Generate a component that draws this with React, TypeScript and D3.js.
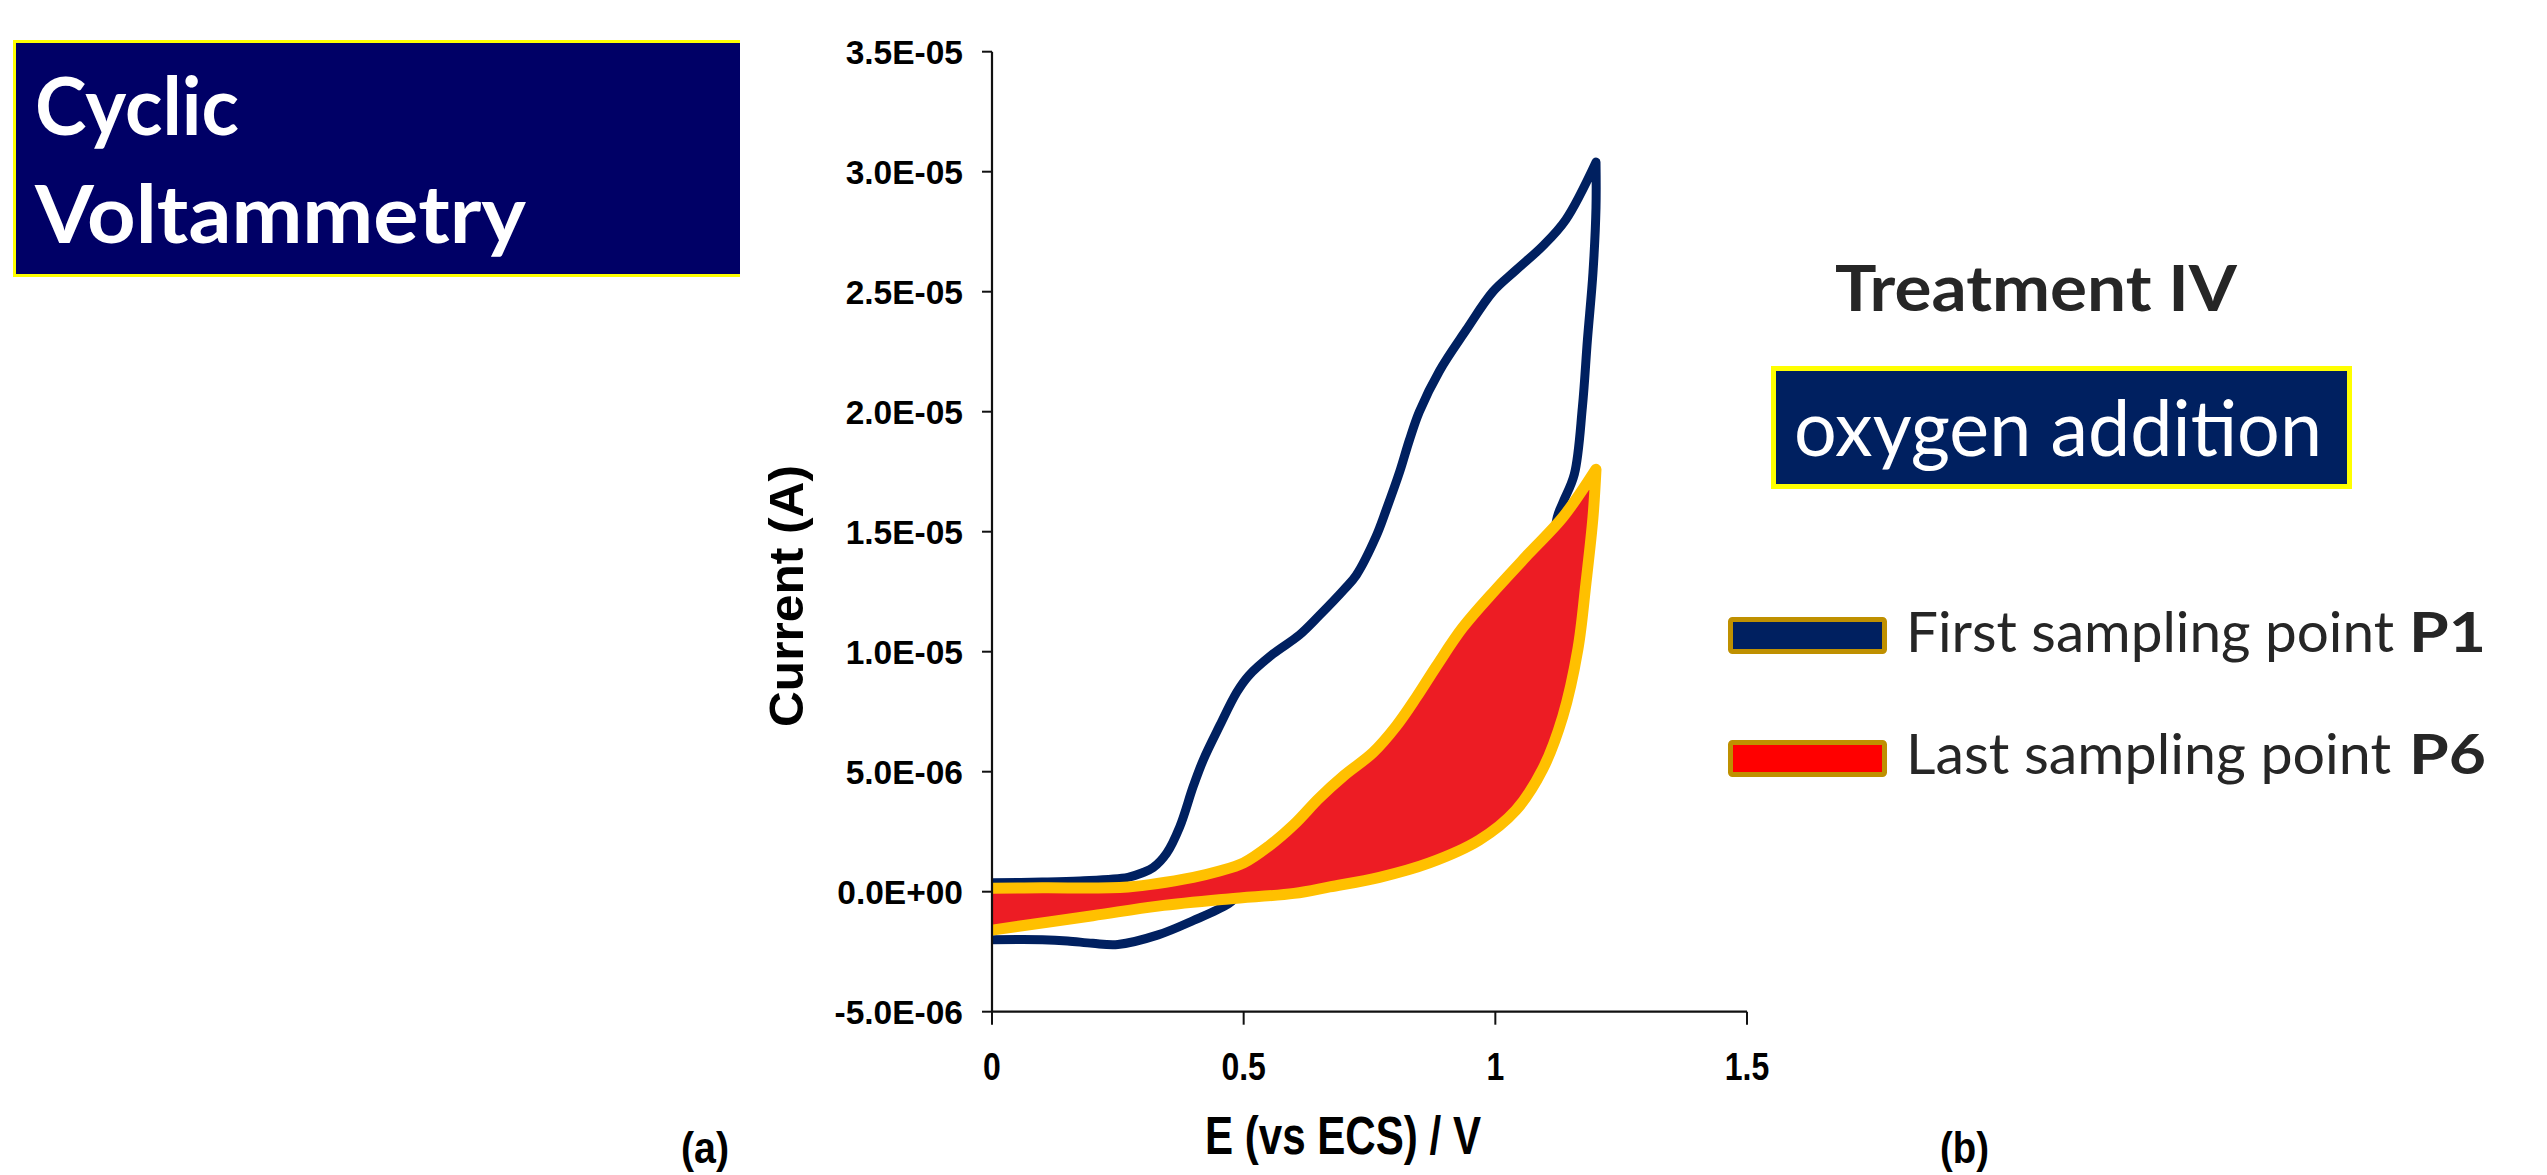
import * as d3 from 'd3';

// Potential E (V vs ECS) and current (µA).
// P1: forward scan 0 -> 1.2 V, then reverse 1.2 -> 0 V.
const p1ForwardE = [0, 0.1, 0.175, 0.27, 0.3, 0.32, 0.347, 0.373, 0.4, 0.42, 0.452, 0.486, 0.51, 0.558, 0.611, 0.65, 0.7, 0.724, 0.763, 0.783, 0.81, 0.829, 0.849, 0.889, 0.942, 0.995, 1.041, 1.094, 1.14, 1.2];
const p1ForwardI = [0.37, 0.4, 0.45, 0.6, 0.8, 1.0, 1.6, 2.7, 4.4, 5.5, 6.9, 8.3, 9.0, 9.9, 10.7, 11.5, 12.6, 13.2, 14.8, 15.9, 17.5, 18.8, 20.0, 21.7, 23.4, 25.0, 25.9, 26.9, 28.0, 30.4];
const p1ReverseE = [1.2, 1.2, 1.194, 1.183, 1.173, 1.157, 1.134, 1.123, 1.1, 1.07, 1.02, 0.95, 0.85, 0.75, 0.65, 0.56, 0.5, 0.47, 0.4, 0.33, 0.25, 0.2, 0.15, 0.1, 0];
const p1ReverseI = [30.4, 28.5, 25.8, 23.0, 20.2, 17.4, 16.2, 15.6, 12.0, 8.5, 5.5, 3.5, 2.0, 1.0, 0.5, 0.08, 0.0, -0.5, -1.2, -1.8, -2.2, -2.15, -2.05, -2.0, -2.0];

// P6
const p6ForwardE = [0, 0.1, 0.27, 0.4, 0.45, 0.5, 0.55, 0.6, 0.65, 0.7, 0.757, 0.803, 0.843, 0.883, 0.935, 1.001, 1.067, 1.134, 1.2];
const p6ForwardI = [0.14, 0.16, 0.2, 0.6, 0.85, 1.2, 1.9, 2.8, 3.9, 4.85, 5.8, 6.9, 8.1, 9.4, 11.0, 12.6, 14.1, 15.6, 17.6];
const p6ReverseE = [1.2, 1.194, 1.18, 1.164, 1.134, 1.094, 1.041, 0.968, 0.869, 0.77, 0.671, 0.6, 0.47, 0.33, 0.2, 0];
const p6ReverseI = [17.6, 15.6, 12.85, 10.1, 7.3, 5.1, 3.4, 2.15, 1.2, 0.6, 0.2, -0.07, -0.3, -0.6, -1.0, -1.6];

const xTickValues = [0, 0.5, 1, 1.5];
const xTickLabels = ['0', '0.5', '1', '1.5'];
const yTickValues = [-5, 0, 5, 10, 15, 20, 25, 30, 35];
const yTickLabels = ['-5.0E-06', '0.0E+00', '5.0E-06', '1.0E-05', '1.5E-05', '2.0E-05', '2.5E-05', '3.0E-05', '3.5E-05'];

const legendLabels = ['First sampling point', 'Last sampling point'];
const legendCodes = ['P1', 'P6'];

const W = 2547;
const H = 1175;
const NAVY = '#002060';
const RED = '#ED1C24';
const GOLD = '#FFC000';
const CHART_FONT = '"Liberation Sans", Arial, sans-serif';
const SLIDE_FONT = 'Lato, "Open Sans", sans-serif';

type Pt = [number, number];
const zip = (es: number[], is: number[]): Pt[] => es.map((e, i) => [e, is[i]]);

export default function App() {
  const x = d3.scaleLinear().domain([0, 1.5]).range([992, 1747]);
  const y = d3.scaleLinear().domain([-5, 35]).range([1011.7, 51.7]);
  const line = d3.line<Pt>()
    .x((p) => x(p[0]))
    .y((p) => y(p[1]))
    .curve(d3.curveCatmullRom.alpha(0.5));

  // two branches joined with a straight L so the switching point stays sharp
  const loop = (fwd: Pt[], rev: Pt[]) => (line(fwd) ?? '') + (line(rev) ?? '').replace(/^M/, 'L');
  const p1Path = loop(zip(p1ForwardE, p1ForwardI), zip(p1ReverseE, p1ReverseI));
  const p6Path = loop(zip(p6ForwardE, p6ForwardI), zip(p6ReverseE, p6ReverseI));

  const [x0, x1] = x.range();
  const [yBottom, yTop] = y.range();

  return (
    <svg width={W} height={H} viewBox={`0 0 ${W} ${H}`} style={{ position: 'fixed', left: 0, top: 0, background: '#fff' }}>
      <rect width={W} height={H} fill="#fff" />

      {/* title block */}
      <rect x={13} y={40} width={727} height={237} fill="#000066" />
      <path d="M740,41.5 H14.5 V275.5 H740" fill="none" stroke="#FFFF00" strokeWidth={3} />
      <text x={35} y={135} fontFamily={SLIDE_FONT} fontWeight={700} fontSize={81} fill="#fff" textLength={204} lengthAdjust="spacingAndGlyphs">Cyclic</text>
      <text x={35} y={243} fontFamily={SLIDE_FONT} fontWeight={700} fontSize={81} fill="#fff" textLength={491} lengthAdjust="spacingAndGlyphs">Voltammetry</text>

      {/* curves */}
      <path d={p1Path} fill="none" stroke={NAVY} strokeWidth={9} strokeLinejoin="round" />
      <path d={p6Path + 'Z'} fill={RED} stroke="none" />
      <path d={p6Path} fill="none" stroke={GOLD} strokeWidth={11} strokeLinejoin="round" />

      {/* axes */}
      <g fontFamily={CHART_FONT} fontWeight={700} fill="#000">
        <line x1={x0} x2={x0} y1={yTop} y2={yBottom} stroke="#111" strokeWidth={2.2} />
        <line x1={x0} x2={x1} y1={yBottom} y2={yBottom} stroke="#111" strokeWidth={2.2} />
        {yTickValues.map((t, i) => (
          <g key={`y${t}`}>
            <line x1={x0 - 10} x2={x0} y1={y(t)} y2={y(t)} stroke="#111" strokeWidth={2} />
            <text x={963} y={y(t) + 12} textAnchor="end" fontSize={33.5}>{yTickLabels[i]}</text>
          </g>
        ))}
        {xTickValues.map((t, i) => (
          <g key={`x${t}`}>
            <line x1={x(t)} x2={x(t)} y1={yBottom} y2={yBottom + 13} stroke="#111" strokeWidth={2} />
            <text transform={`translate(${x(t)},1080) scale(0.82,1)`} textAnchor="middle" fontSize={39}>{xTickLabels[i]}</text>
          </g>
        ))}
        <text transform="translate(1343,1154) scale(0.78,1)" textAnchor="middle" fontSize={54}>E (vs ECS) / V</text>
        <text transform="translate(803,596) rotate(-90)" textAnchor="middle" fontSize={48} textLength={262} lengthAdjust="spacingAndGlyphs">Current (A)</text>
        <text x={681} y={1163} fontSize={45} textLength={48} lengthAdjust="spacingAndGlyphs">(a)</text>
        <text x={1940} y={1163} fontSize={45} textLength={49} lengthAdjust="spacingAndGlyphs">(b)</text>
      </g>

      {/* right-hand annotations */}
      <text x={1835} y={311} fontFamily={SLIDE_FONT} fontWeight={700} fontSize={64} fill="#262626" textLength={402} lengthAdjust="spacingAndGlyphs">Treatment IV</text>
      <rect x={1773.5} y={368.5} width={576} height={118} fill={NAVY} stroke="#FFFF00" strokeWidth={5} />
      <text x={1794} y={456} fontFamily={SLIDE_FONT} fontSize={78} fill="#fff" textLength={528} lengthAdjust="spacingAndGlyphs">oxygen addition</text>

      {legendLabels.map((label, i) => {
        const top = i === 0 ? 617 : 740;
        const base = i === 0 ? 652 : 774;
        return (
          <g key={label}>
            <rect x={1730.5} y={top + 2.5} width={154} height={32} rx={2} fill={i === 0 ? NAVY : '#FF0000'} stroke="#BF9000" strokeWidth={5} />
            <text x={1906} y={base} fontFamily={SLIDE_FONT} fontSize={56} fill="#262626" textLength={i === 0 ? 488 : 485} lengthAdjust="spacingAndGlyphs">{label}</text>
            <text x={2409} y={base} fontFamily={SLIDE_FONT} fontWeight={700} fontSize={56} fill="#262626" textLength={77} lengthAdjust="spacingAndGlyphs">{legendCodes[i]}</text>
          </g>
        );
      })}
    </svg>
  );
}
